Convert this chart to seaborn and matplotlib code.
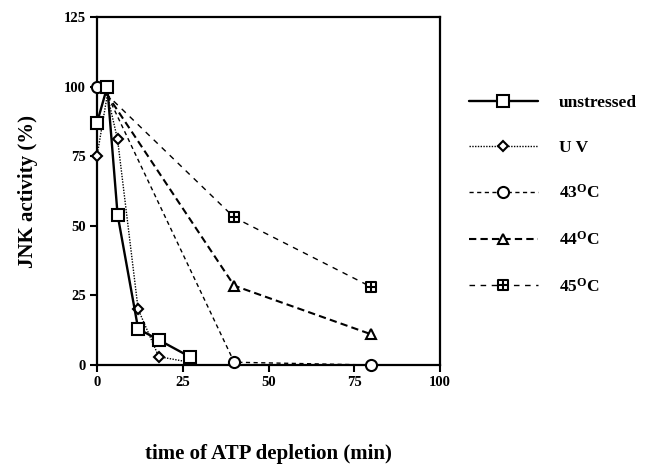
import numpy as np
import pandas as pd
import matplotlib
matplotlib.use("Agg")
import matplotlib.pyplot as plt
from matplotlib.path import Path
from matplotlib.lines import Line2D
import seaborn as sns

# ---- data ----
t_unstressed = [0, 3, 6, 12, 18, 27]
v_unstressed = [87, 100, 54, 13, 9, 3]

t_uv = [0, 3, 6, 12, 18, 27]
v_uv = [75, 97, 81, 20, 3, 1]

t_43 = [0, 3, 40, 80]
v_43 = [100, 97, 1, 0]

t_44 = [0, 3, 40, 80]
v_44 = [100, 97, 28.5, 11]

t_45 = [0, 3, 40, 80]
v_45 = [100, 97, 53, 28]

labels = ["unstressed", "U V", r"43$^{\mathrm{O}}$C", r"44$^{\mathrm{O}}$C", r"45$^{\mathrm{O}}$C"]
xticks = [0, 25, 50, 75, 100]
yticks = [0, 25, 50, 75, 100, 125]

# ---- style ----
sns.set_theme(style="white")
plt.rcParams["font.family"] = ["Liberation Serif", "DejaVu Serif"]
plt.rcParams["font.weight"] = "bold"
plt.rcParams["text.color"] = "black"
plt.rcParams["axes.labelcolor"] = "black"
plt.rcParams["xtick.color"] = "black"
plt.rcParams["ytick.color"] = "black"
plt.rcParams["mathtext.fontset"] = "custom"
plt.rcParams["mathtext.rm"] = "Liberation Serif:bold"
plt.rcParams["mathtext.it"] = "Liberation Serif:bold"
plt.rcParams["mathtext.bf"] = "Liberation Serif:bold"

# square with cross marker
box_cross = Path(
    [(-1, -1), (1, -1), (1, 1), (-1, 1), (-1, -1), (0, -1), (0, 1), (-1, 0), (1, 0)],
    [Path.MOVETO, Path.LINETO, Path.LINETO, Path.LINETO, Path.CLOSEPOLY,
     Path.MOVETO, Path.LINETO, Path.MOVETO, Path.LINETO],
)

fig = plt.figure(figsize=(6.48, 4.67), dpi=100)
ax = fig.add_axes([97 / 648, 1 - 365 / 467, (440 - 97) / 648, (365 - 17) / 467])

series = [
    (t_unstressed, v_unstressed, dict(marker="s", ms=8, lw=1.7, linestyle="-", markevery=None, zorder=6)),
    (t_uv, v_uv, dict(marker="D", ms=5.5, lw=1.0, linestyle=(0, (1, 1)), markevery=[0, 2, 3, 4], zorder=5)),
    (t_43, v_43, dict(marker="o", ms=8, lw=1.0, linestyle=(0, (3, 2.5)), markevery=[0, 2, 3], zorder=4)),
    (t_44, v_44, dict(marker="^", ms=7.5, lw=1.5, linestyle=(0, (3.5, 2)), markevery=[2, 3], zorder=3)),
    (t_45, v_45, dict(marker=box_cross, ms=7, lw=1.0, linestyle=(0, (4, 4)), markevery=[2, 3], zorder=3)),
]

handles = []
for (t, v, kw), lab in zip(series, labels):
    df = pd.DataFrame({"t": t, "v": v})
    sns.lineplot(data=df, x="t", y="v", ax=ax, color="black", sort=False,
                 markerfacecolor="white", markeredgecolor="black", markeredgewidth=1.5,
                 clip_on=False, **kw)
    handles.append(Line2D([], [], color="black", marker=kw["marker"], ms=kw["ms"],
                          lw=kw["lw"], linestyle=kw["linestyle"],
                          markerfacecolor="white", markeredgecolor="black",
                          markeredgewidth=1.5, label=lab))

ax.set_xlim(0, 100)
ax.set_ylim(0, 125)
ax.set_xticks(xticks)
ax.set_yticks(yticks)
ax.set_xticklabels([str(x) for x in xticks], fontsize=10.5, fontweight="bold", color="black")
ax.set_yticklabels([str(y) for y in yticks], fontsize=10.5, fontweight="bold", color="black")
ax.tick_params(direction="out", length=5, width=1.5, colors="black", pad=3,
               bottom=True, left=True)
for s in ax.spines.values():
    s.set_visible(True)
    s.set_color("black")
    s.set_linewidth(1.6)

ax.set_xlabel("time of ATP depletion (min)", fontsize=15, fontweight="bold", color="black")
ax.xaxis.label.set_va("center")
ax.xaxis.set_label_coords(0.5, -0.255)
ax.set_ylabel("JNK activity (%)", fontsize=15, fontweight="bold", color="black")
ax.yaxis.label.set_va("center")
ax.yaxis.set_label_coords(-0.2, 0.5)

leg = ax.legend(handles=handles, loc="upper left", bbox_to_anchor=(460 / 648, 1 - 86 / 467),
                bbox_transform=fig.transFigure, frameon=False, fontsize=12.5,
                handlelength=4.0, handletextpad=1.2, labelspacing=1.65, borderpad=0)
for txt in leg.get_texts():
    txt.set_fontweight("bold")
    txt.set_color("black")

fig.savefig("out.png", dpi=100)
